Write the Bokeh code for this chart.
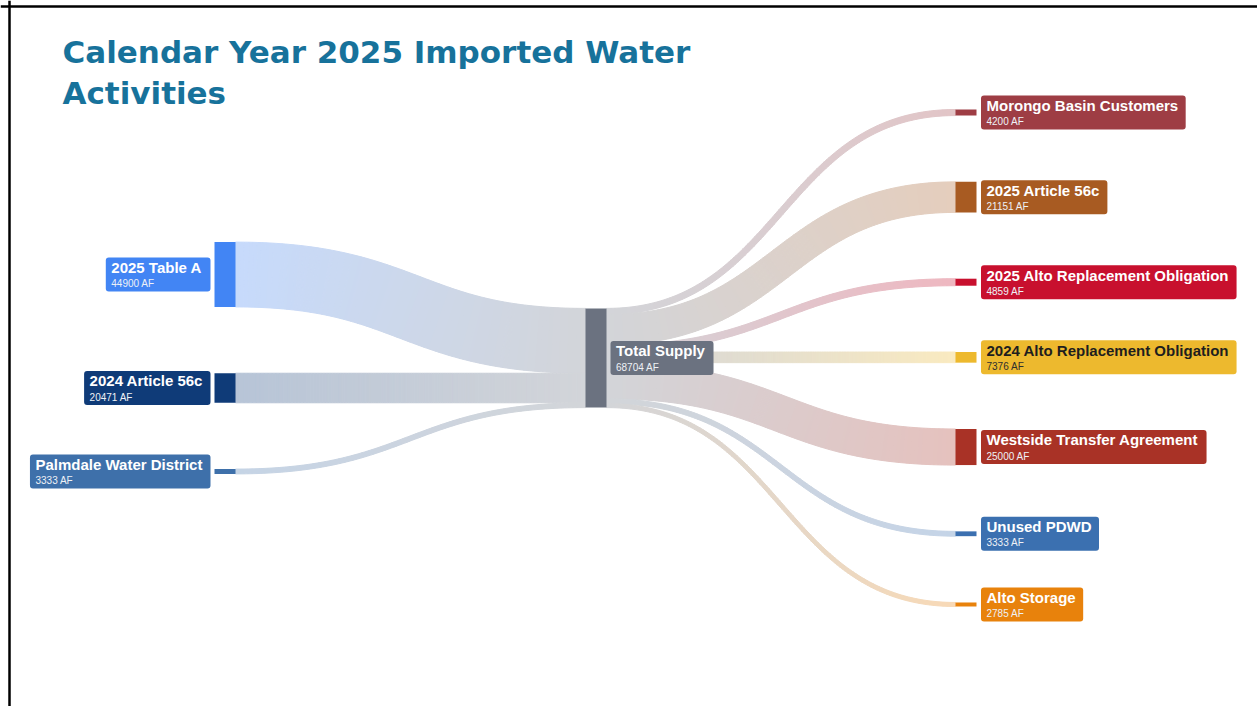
import numpy as np
from bokeh.plotting import figure
from bokeh.models import ColumnDataSource, Range1d, Span, Quad
from bokeh.core.properties import value
from bokeh.embed import file_html
from bokeh.resources import INLINE

# ---------------- data ----------------
title_lines = ["Calendar Year 2025 Imported Water", "Activities"]
unit = "AF"

sources = ["2025 Table A", "2024 Article 56c", "Palmdale Water District"]
source_af = [44900, 20471, 3333]
source_colors = ["#4285F4", "#0F3B78", "#3E70AA"]

hub = "Total Supply"
hub_color = "#6B7280"

targets = ["Morongo Basin Customers", "2025 Article 56c",
           "2025 Alto Replacement Obligation", "2024 Alto Replacement Obligation",
           "Westside Transfer Agreement", "Unused PDWD", "Alto Storage"]
target_af = [4200, 21151, 4859, 7376, 25000, 3333, 2785]
target_colors = ["#9E3D44", "#A85B22", "#C8102E", "#EDB92E",
                 "#A93226", "#3B70B0", "#E8820C"]
dark_text_nodes = ["2024 Alto Replacement Obligation"]

# ---------------- layout constants ----------------
W, H = 1257, 706
COL_X = [214, 585, 955]
NODE_W = 21
Y_TOP, Y_BOT = 109, 606
PAD = 66.3
LINK_ALPHA = 0.3
# offset from the "top" text anchor to the cap top, as a share of font size
CAP_OFF_LIB = 0.175
CAP_OFF_DJV = 0.15

# Arial / Liberation Sans bold advance widths (per 1000 em)
BOLD_W = {" ": 278, "0": 556, "1": 556, "2": 556, "3": 556, "4": 556, "5": 556,
          "6": 556, "7": 556, "8": 556, "9": 556,
          "A": 722, "B": 722, "C": 722, "D": 722, "E": 667, "F": 611, "G": 778,
          "H": 722, "I": 278, "J": 556, "K": 722, "L": 611, "M": 833, "N": 722,
          "O": 778, "P": 667, "Q": 778, "R": 722, "S": 667, "T": 611, "U": 722,
          "V": 667, "W": 944, "X": 667, "Y": 667, "Z": 611,
          "a": 556, "b": 611, "c": 556, "d": 611, "e": 556, "f": 333, "g": 611,
          "h": 611, "i": 278, "j": 278, "k": 556, "l": 278, "m": 889, "n": 611,
          "o": 611, "p": 611, "q": 611, "r": 389, "s": 556, "t": 333, "u": 611,
          "v": 556, "w": 778, "x": 556, "y": 556, "z": 500}
REG_W = {" ": 278, "A": 667, "F": 611}
for d in "0123456789":
    REG_W[d] = 556


def text_w(s, size, table):
    return sum(table.get(c, 556) for c in s) * size / 1000.0


def hex_rgb(h):
    h = h.lstrip("#")
    return np.array([int(h[i:i + 2], 16) for i in (0, 2, 4)], dtype=float)


def light(h):
    return hex_rgb(h) * LINK_ALPHA + 255 * (1 - LINK_ALPHA)


def rgb_hex(c):
    c = np.clip(np.round(c), 0, 255).astype(int)
    return "#%02x%02x%02x" % tuple(c)


# ---------------- sankey layout ----------------
total = sum(target_af)
k = (Y_BOT - Y_TOP - (len(targets) - 1) * PAD) / total
cy = (Y_TOP + Y_BOT) / 2.0

columns = [
    (sources, source_af, source_colors),
    ([hub], [sum(source_af)], [hub_color]),
    (targets, target_af, target_colors),
]
nodes = []
for ci, (names, vals, cols) in enumerate(columns):
    hsum = sum(vals) * k + (len(vals) - 1) * PAD
    y = cy - hsum / 2.0
    for nm, v, c in zip(names, vals, cols):
        h = v * k
        nodes.append(dict(name=nm, val=v, color=c, col=ci,
                          x0=COL_X[ci], x1=COL_X[ci] + NODE_W, y0=y, y1=y + h))
        y += h + PAD

node_by = {(n["col"], n["name"]): n for n in nodes}
hub_node = node_by[(1, hub)]

links = []
in_off = hub_node["y0"]
for nm, v in zip(sources, source_af):
    s = node_by[(0, nm)]
    w = v * k
    links.append((s, hub_node, s["y0"] + w / 2, in_off + w / 2, w))
    in_off += w
out_off = hub_node["y0"]
for nm, v in zip(targets, target_af):
    t = node_by[(2, nm)]
    w = v * k
    links.append((hub_node, t, out_off + w / 2, t["y0"] + w / 2, w))
    out_off += w

# ---------------- figure ----------------
p = figure(width=W, height=H, x_range=Range1d(0, W), y_range=Range1d(H, 0),
           output_backend="svg", toolbar_location=None, min_border=0,
           x_axis_location=None, y_axis_location=None)
p.grid.visible = False
p.outline_line_color = None
p.background_fill_color = "white"
p.border_fill_color = "white"

# links as gradient bands
pxs, pys, pcs = [], [], []
N = 120
for s, t, ys0, ys1, w in links:
    x0, x1 = s["x1"], t["x0"]
    xm = (x0 + x1) / 2.0
    tt = np.linspace(0, 1, N + 1)
    a = (1 - tt)
    bx = a ** 3 * x0 + 3 * a ** 2 * tt * xm + 3 * a * tt ** 2 * xm + tt ** 3 * x1
    by = a ** 3 * ys0 + 3 * a ** 2 * tt * ys0 + 3 * a * tt ** 2 * ys1 + tt ** 3 * ys1
    dx = 3 * a ** 2 * (xm - x0) + 3 * tt ** 2 * (x1 - xm)
    dy = 6 * a * tt * (ys1 - ys0)
    ln = np.hypot(dx, dy)
    nx, ny = -dy / ln, dx / ln
    tx, ty = bx + nx * w / 2, by + ny * w / 2
    ux, uy = bx - nx * w / 2, by - ny * w / 2
    c0, c1 = light(s["color"]), light(t["color"])
    for i in range(N):
        f = ((bx[i] + bx[i + 1]) / 2 - x0) / (x1 - x0)
        pxs.append([tx[i], tx[i + 1], ux[i + 1], ux[i]])
        pys.append([ty[i], ty[i + 1], uy[i + 1], uy[i]])
        pcs.append(rgb_hex(c0 * (1 - f) + c1 * f))
p.patches(xs="xs", ys="ys", fill_color="c", line_color="c", line_width=1.0,
          source=ColumnDataSource(dict(xs=pxs, ys=pys, c=pcs)))

# nodes
p.quad(left=[n["x0"] for n in nodes], right=[n["x1"] for n in nodes],
       top=[n["y0"] for n in nodes], bottom=[n["y1"] for n in nodes],
       fill_color=[n["color"] for n in nodes], line_color=None)

# label boxes
NAME_SIZE, VAL_SIZE = 15, 10
GAP, PADL, PADR, BOX_H = 4.0, 5.5, 7.5, 34
NAME_CAP, VAL_CAP = 4.0, 22.3   # cap-top offsets inside the box
bl, br, bt, bb, bc = [], [], [], [], []
nx_, ny_, nt, ncol = [], [], [], []
vx_, vy_, vt, vcol = [], [], [], []
for n in nodes:
    vtxt = "%d %s" % (n["val"], unit)
    bw = max(text_w(n["name"], NAME_SIZE, BOLD_W), text_w(vtxt, VAL_SIZE, REG_W)) + PADL + PADR
    if n["col"] == 0:
        right = n["x0"] - GAP
        left = right - bw
    else:
        left = n["x1"] + GAP + (0.5 if n["col"] == 2 else 0)
        right = left + bw
    mid = (n["y0"] + n["y1"]) / 2.0
    top = mid - BOX_H / 2.0
    bl.append(left); br.append(right); bt.append(top); bb.append(top + BOX_H)
    bc.append(n["color"])
    dark = n["name"] in dark_text_nodes
    nx_.append(left + PADL); ny_.append(top + NAME_CAP - CAP_OFF_LIB * NAME_SIZE)
    nt.append(n["name"])
    ncol.append("#1E1E1E" if dark else "#FFFFFF")
    vx_.append(left + PADL); vy_.append(top + VAL_CAP - CAP_OFF_LIB * VAL_SIZE)
    vt.append(vtxt)
    vcol.append("#2E2E2E" if dark else "#EEF1F6")

qkw = {}
if "border_radius" in Quad.properties():
    qkw["border_radius"] = 3
p.quad(left=bl, right=br, top=bt, bottom=bb, fill_color=bc, line_color=None, **qkw)

p.text(x=nx_, y=ny_, text=nt, text_color=ncol, text_font=value("Liberation Sans"),
       text_font_style="bold", text_font_size=value("%gpx" % NAME_SIZE),
       text_baseline="top", text_align="left")
p.text(x=vx_, y=vy_, text=vt, text_color=vcol, text_font=value("Liberation Sans"),
       text_font_size=value("%gpx" % VAL_SIZE),
       text_baseline="top", text_align="left")

# title (cap tops at 38.3 and 79.3)
TITLE_SIZE = 31
p.text(x=[62, 62], y=[38.3 - CAP_OFF_DJV * TITLE_SIZE, 79.3 - CAP_OFF_DJV * TITLE_SIZE],
       text=title_lines, text_color="#17729B",
       text_font=value("DejaVu Sans"), text_font_style="bold",
       text_font_size=value("%dpx" % TITLE_SIZE), text_baseline="top", text_align="left")

# slide frame (top and left edges)
p.add_layout(Span(location=6, dimension="width", line_color="black", line_width=2.5))
p.add_layout(Span(location=9, dimension="height", line_color="black", line_width=2.5))

open("out.html", "w").write(file_html(p, INLINE))
